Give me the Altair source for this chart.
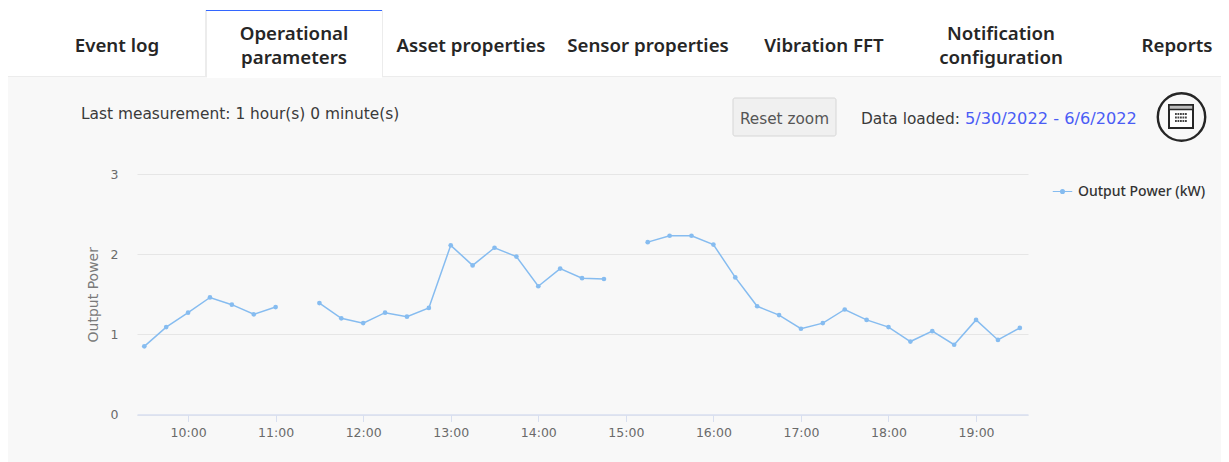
import altair as alt
import pandas as pd

# ---------- data ----------
times = ["09:30","09:45","10:00","10:15","10:30","10:45","11:00","11:15","11:30","11:45",
         "12:00","12:15","12:30","12:45","13:00","13:15","13:30","13:45","14:00","14:15",
         "14:30","14:45","15:00","15:15","15:30","15:45","16:00","16:15","16:30","16:45",
         "17:00","17:15","17:30","17:45","18:00","18:15","18:30","18:45","19:00","19:15","19:30"]
power = [0.85,1.09,1.27,1.46,1.37,1.25,1.34,None,1.39,1.20,
         1.14,1.27,1.22,1.33,2.11,1.86,2.08,1.97,1.60,1.82,
         1.70,1.69,None,2.15,2.23,2.23,2.12,1.71,1.35,1.24,
         1.07,1.14,1.31,1.18,1.09,0.91,1.04,0.87,1.18,0.93,1.08]
series_name = "Output Power (kW)"
y_title = "Output Power"
y_ticks = [0, 1, 2, 3]
x_tick_hours = [10, 11, 12, 13, 14, 15, 16, 17, 18, 19]

tabs = [("Event log", 117, 45.5), ("Operational", 294, 33.5), ("parameters", 294, 57.5),
        ("Asset properties", 471, 45.5), ("Sensor properties", 648, 45.5),
        ("Vibration FFT", 824, 45.5), ("Notification", 1001, 33.5), ("configuration", 1001, 57.5),
        ("Reports", 1177, 45.5)]

# ---------- layout ----------
L, T = 137, 174          # page position of the plot's origin
W, H = 891, 240.5
FONT = "Noto Sans"
BODY = "DejaVu Sans"
LINE = "#86bcf0"
INK = "#3a3a3a"
PAGE = "#f8f8f8"

one = alt.Data(values=[{"a": 1}])

def at(x, y):
    return dict(x=alt.value(x - L), y=alt.value(y - T))

def box(x0, y0, x1, y1, **kw):
    return alt.Chart(one).mark_rect(**kw).encode(
        x=alt.value(x0 - L), x2=alt.value(x1 - L), y=alt.value(y0 - T), y2=alt.value(y1 - T))

def label(text, x, y, size=14, color=INK, align="left", weight=400, font=BODY):
    return alt.Chart(one).mark_text(text=text, font=font, fontSize=size, color=color, align=align,
                                    baseline="middle", fontWeight=weight).encode(**at(x, y))

chrome = [
    box(8, 0, 1229, 76, color="#ffffff"),
    box(8, 76, 1229, 77, color="#ececec"),
    box(205, 10, 383, 77, color="#ececec"),
    box(207, 11, 382, 78, color="#ffffff"),
    box(206, 10, 382, 11, color="#3366ff"),
]
chrome += [label(t, x, y, size=18.7, color="#262626", align="center", weight=600, font=FONT) for t, x, y in tabs]
chrome += [
    label("Last measurement: 1 hour(s) 0 minute(s)", 81, 113.5, size=15.4),
    box(733, 98, 836, 136, color="#f0f0f0", stroke="#d6d6d6", cornerRadius=2),
    label("Reset zoom", 784.5, 118.5, size=15.3, color="#555555", align="center"),
    label("Data loaded:", 861, 118.5, size=15.4),
    label("5/30/2022 - 6/6/2022", 965, 118.5, size=16.2, color="#4a5cf5"),
    alt.Chart(one).mark_point(filled=False, color="#262626", strokeWidth=2.4, size=2250, opacity=1).encode(**at(1181.5, 117)),
    box(1169, 105, 1193, 128, color="#ffffff", stroke="#262626", strokeWidth=2),
    box(1169, 105, 1193, 109.5, color="#bdbdbd", stroke="#262626", strokeWidth=1.5),
]
chrome += [box(1175 + 2.5 * c, 113 + 3.5 * r, 1176.8 + 2.5 * c, 115 + 3.5 * r, color="#444444")
           for c in range(5) for r in range(3)]

df = pd.DataFrame({
    "time": [f"2022-06-06T{t}:00" for t in times],
    "power": power,
    "series": [series_name] * len(times),
})

def dt(h, m=0, s=0):
    return alt.DateTime(year=2022, month=6, date=6, hours=h, minutes=m, seconds=s)

x_axis = alt.Axis(format="%H:%M", title=None, grid=False, values=[dt(h) for h in x_tick_hours],
                  domainColor="#d8dff0", domainWidth=1.5, tickColor="#d8dff0", tickSize=7,
                  labelFont=BODY, labelFontSize=12.5, labelColor="#6a6a6a", labelPadding=5)
y_axis = alt.Axis(values=y_ticks, format="d", title=y_title, domain=False, ticks=False,
                  gridColor="#e6e6e6", gridWidth=1, labelFont=BODY, labelFontSize=12.5, labelColor="#6a6a6a",
                  labelPadding=19, titleFont=BODY, titleFontSize=14, titleFontWeight=400,
                  titleColor="#7a7a7a", titlePadding=10)

legend = alt.Legend(title=None, orient="none", legendX=915, legendY=7,
                    symbolType="M-1,0L1,0M0.2,0A0.2,0.2,0,1,1,-0.2,0A0.2,0.2,0,1,1,0.2,0Z",
                    symbolSize=380, symbolStrokeWidth=1.2, symbolStrokeColor=LINE, symbolFillColor=LINE,
                    labelFont=FONT, labelFontSize=14, labelFontWeight=500, labelColor="#333333", labelOffset=5)

line = alt.Chart(df).mark_line(strokeWidth=1.5, point=alt.OverlayMarkDef(size=22, filled=True, opacity=1)).encode(
    x=alt.X("time:T", axis=x_axis, scale=alt.Scale(domain=[dt(9, 25), dt(19, 35, 36)])),
    y=alt.Y("power:Q", axis=y_axis, scale=alt.Scale(domain=[0, 3])),
    color=alt.Color("series:N", scale=alt.Scale(range=[LINE]), legend=legend),
)

chart = alt.layer(*chrome, line).properties(
    width=W, height=H, background=PAGE,
    autosize=alt.AutoSizeParams(type="none"),
    padding={"left": L - 8, "top": T - 8, "right": 1221 - 8 - (L - 8) - W, "bottom": 454 - (T - 8) - H},
).configure_view(stroke=None)

chart.save("out.html", embed_options={"renderer": "svg", "actions": False})
